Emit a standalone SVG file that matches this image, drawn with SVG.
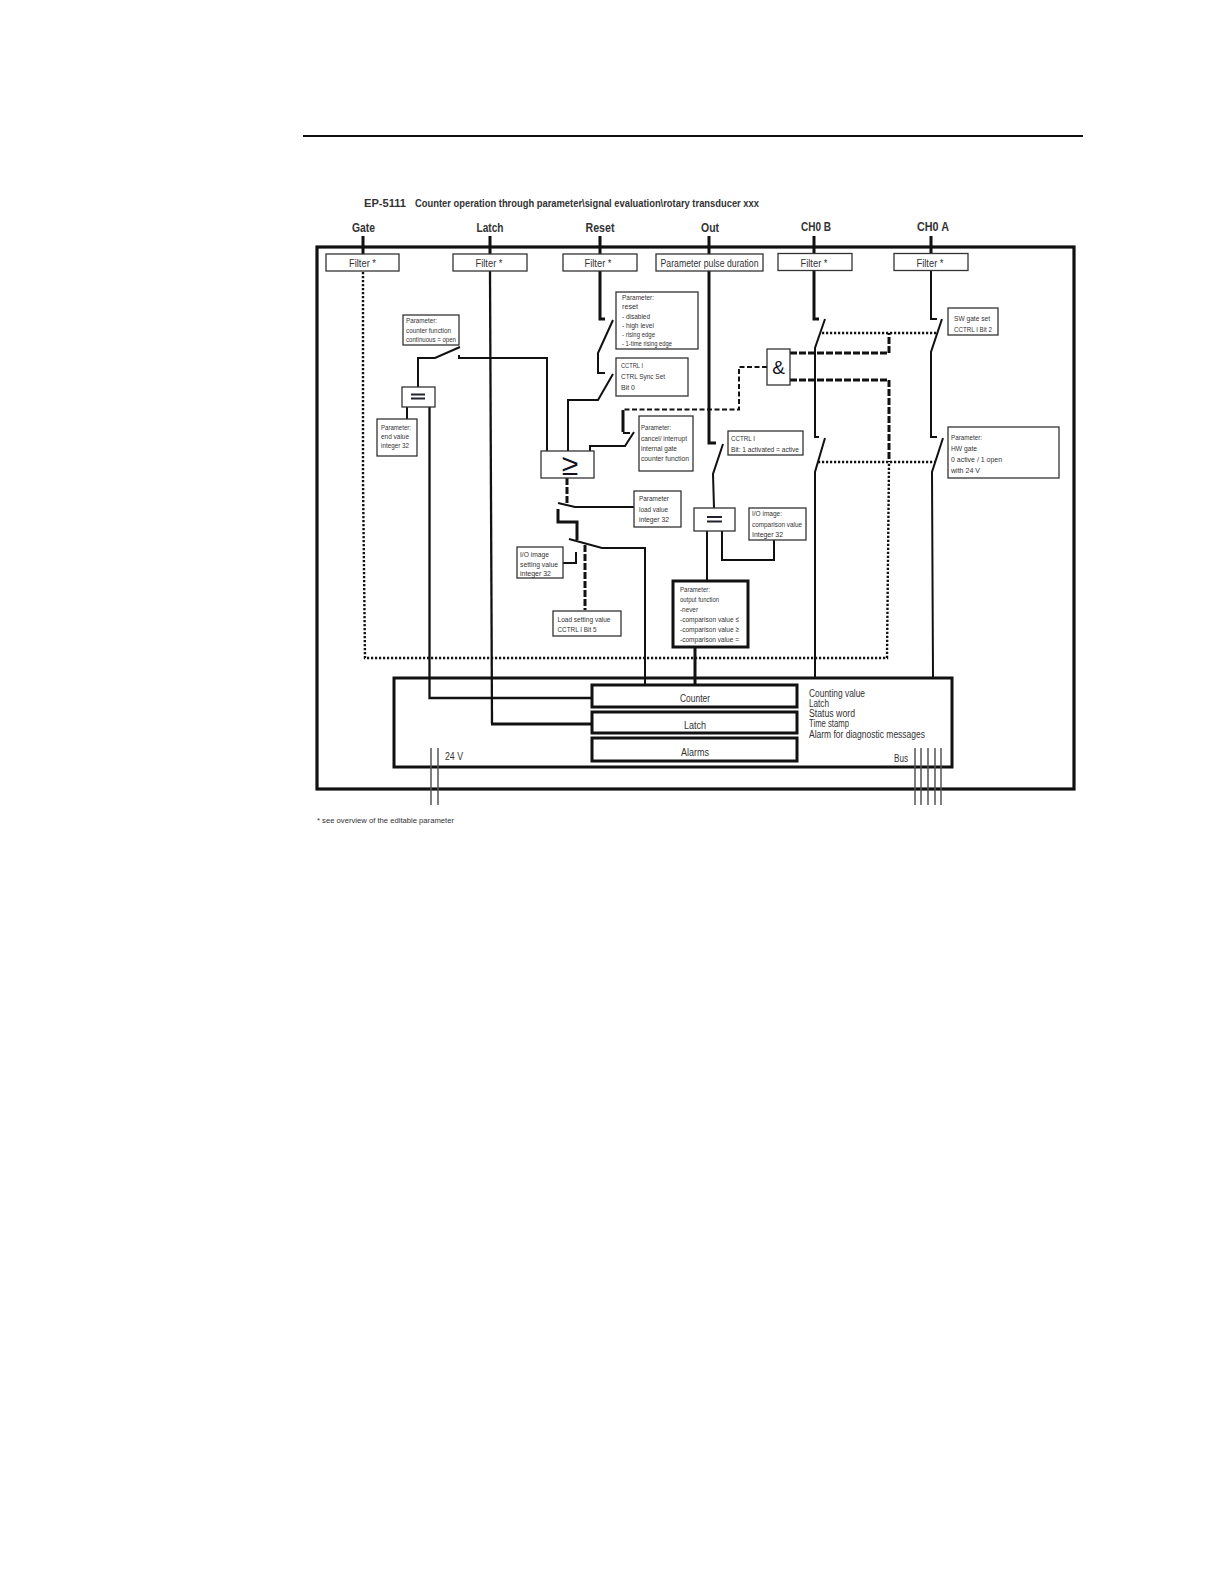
<svg xmlns="http://www.w3.org/2000/svg" width="1224" height="1584" viewBox="0 0 1224 1584">
<style>
text{font-family:"Liberation Sans",Arial,sans-serif;fill:#333}
.b{fill:#fff;stroke:#333;stroke-width:1.3}
.f{font-size:11px;text-anchor:middle}
.s{font-size:7.800px}
.h{font-size:13.500px;font-weight:bold;text-anchor:middle}
.q{font-size:10px}
.c{font-size:11.500px;text-anchor:middle}
.l{fill:none;stroke:#111;stroke-width:2}
.t{fill:none;stroke:#111;stroke-width:3}
.d{fill:none;stroke:#111;stroke-width:2.400;stroke-dasharray:2.200 1.800}
.m{fill:none;stroke:#111;stroke-width:3;stroke-dasharray:7 2}
.n{fill:none;stroke:#111;stroke-width:2;stroke-dasharray:5 2.500}
.g{stroke:#555;stroke-width:1.500}
.x{fill:#fff;stroke:#111;stroke-width:3}
</style>
<path d="M303 136H1083" stroke="#111" stroke-width="2"/>
<text x="364" y="207" font-size="11.500" font-weight="bold" textLength="42" lengthAdjust="spacingAndGlyphs">EP-5111</text>
<text x="415" y="207" font-size="11.500" font-weight="bold" textLength="344" lengthAdjust="spacingAndGlyphs">Counter operation through parameter\signal evaluation\rotary transducer xxx</text>
<text class="h" x="363.500" y="232" textLength="23" lengthAdjust="spacingAndGlyphs">Gate</text>
<text class="h" x="490" y="232" textLength="27" lengthAdjust="spacingAndGlyphs">Latch</text>
<text class="h" x="600" y="232" textLength="29" lengthAdjust="spacingAndGlyphs">Reset</text>
<text class="h" x="710" y="232" textLength="18" lengthAdjust="spacingAndGlyphs">Out</text>
<text class="h" x="816" y="231" textLength="30" lengthAdjust="spacingAndGlyphs">CH0 B</text>
<text class="h" x="933" y="231" textLength="32" lengthAdjust="spacingAndGlyphs">CH0 A</text>
<rect x="317" y="247" width="757" height="542" fill="none" stroke="#111" stroke-width="3.200"/>
<g id="connectors">
<path class="t" d="M363 236V254M490 236V254M600 236V254M709 236V254M814 236V254M931 236V254"/>
<path class="d" d="M363 272V480L365 658H887L889 462"/>
<path class="d" d="M818 462H935M822 333H938"/>
<path class="m" d="M790 353H889V333M790 380H889V462"/>
<path class="n" d="M767 367H739V409.500H623"/>
<path class="t" d="M623 410V432"/>
<path class="l" d="M623 433H630M634 432L625 446H590V451"/>
<path class="l" d="M418 387V358H435L460 347M459 355V358H547V451"/>
<path class="l" d="M407 407V419"/>
<path class="l" d="M429.500 407V698H592" style="stroke-width:2.300"/>
<path class="l" d="M490 271L492 724" style="stroke-width:2.300"/>
<path class="t" d="M491 724H592"/>
<path class="t" d="M600 271V319H605"/>
<path class="l" d="M613 320L598 353V373H605M613 374L598 400H568V451"/>
<path class="m" d="M567 478V503"/>
<path class="l" d="M558 503L575 507H634"/>
<path class="t" d="M558 509V522H577V540"/>
<path class="l" d="M569 539L602 548H645V684M563 563H576V552"/>
<path class="m" d="M585 545V610"/>
<path class="t" d="M709 271V443H716"/>
<path class="l" d="M723 444L713 474L714 508"/>
<path class="l" d="M707 531V582"/>
<path class="l" d="M722 531V560H774V540"/>
<path class="t" d="M695 647V684"/>
<path class="t" d="M814 271V319H819"/>
<path class="l" d="M825 319L815 348V437H819M825 438L815 472V678"/>
<path class="l" d="M931 271V319H937M942 319L931 352V437H937M943 438L932 472L933 678"/>
</g>
<g id="filter-gate"><rect class="b" x="326" y="254" width="73" height="17"/><text class="f" x="362.500" y="267" textLength="27" lengthAdjust="spacingAndGlyphs">Filter *</text></g>
<g id="filter-latch"><rect class="b" x="453" y="254" width="74" height="17"/><text class="f" x="489" y="267" textLength="27" lengthAdjust="spacingAndGlyphs">Filter *</text></g>
<g id="filter-reset"><rect class="b" x="563" y="254" width="74" height="17"/><text class="f" x="598" y="267" textLength="27" lengthAdjust="spacingAndGlyphs">Filter *</text></g>
<g id="pulse"><rect class="b" x="656" y="254" width="107" height="17"/><text class="f" x="709.500" y="267" textLength="98" lengthAdjust="spacingAndGlyphs">Parameter pulse duration</text></g>
<g id="filter-chb"><rect class="b" x="778" y="253.500" width="74" height="17"/><text class="f" x="814" y="266.500" textLength="27" lengthAdjust="spacingAndGlyphs">Filter *</text></g>
<g id="filter-cha"><rect class="b" x="894" y="253.500" width="74" height="17"/><text class="f" x="930" y="266.500" textLength="27" lengthAdjust="spacingAndGlyphs">Filter *</text></g>
<g id="counter-fn"><rect class="b" x="403" y="315" width="56" height="30"/><text class="s" x="406" y="323" textLength="31" lengthAdjust="spacingAndGlyphs">Parameter:</text><text class="s" x="406" y="333" textLength="45" lengthAdjust="spacingAndGlyphs">counter function</text><text class="s" x="406" y="342" textLength="50" lengthAdjust="spacingAndGlyphs">continuous = open</text></g>
<g id="eq1"><rect class="b" x="402" y="387" width="33" height="20"/><path d="M411 394.500H425M411 398.500H425" stroke="#223" stroke-width="1.800"/></g>
<g id="end-value"><rect class="b" x="377" y="419" width="40" height="37"/><text class="s" x="381" y="430" textLength="30" lengthAdjust="spacingAndGlyphs">Parameter:</text><text class="s" x="381" y="439" textLength="28" lengthAdjust="spacingAndGlyphs">end value</text><text class="s" x="381" y="448" textLength="28" lengthAdjust="spacingAndGlyphs">integer 32</text></g>
<g id="reset-param"><rect class="b" x="616" y="292" width="82" height="57"/><text class="s" x="622" y="300" textLength="32" lengthAdjust="spacingAndGlyphs">Parameter:</text><text class="s" x="622" y="309" textLength="16" lengthAdjust="spacingAndGlyphs">reset</text><text class="s" x="622" y="319" textLength="28" lengthAdjust="spacingAndGlyphs">- disabled</text><text class="s" x="622" y="328" textLength="32" lengthAdjust="spacingAndGlyphs">- high level</text><text class="s" x="622" y="337" textLength="33" lengthAdjust="spacingAndGlyphs">- rising edge</text><text class="s" x="622" y="346" textLength="50" lengthAdjust="spacingAndGlyphs">- 1-time rising edge</text></g>
<g id="cctrl-sync"><rect class="b" x="616" y="358" width="72" height="38"/><text class="s" x="621" y="368" textLength="22" lengthAdjust="spacingAndGlyphs">CCTRL I</text><text class="s" x="621" y="379" textLength="44" lengthAdjust="spacingAndGlyphs">CTRL Sync Set</text><text class="s" x="621" y="390" textLength="14" lengthAdjust="spacingAndGlyphs">Bit 0</text></g>
<g id="cancel"><rect class="b" x="639" y="416" width="54" height="55"/><text class="s" x="641" y="430" textLength="30" lengthAdjust="spacingAndGlyphs">Parameter:</text><text class="s" x="641" y="441" textLength="46" lengthAdjust="spacingAndGlyphs">cancel/ interrupt</text><text class="s" x="641" y="451" textLength="36" lengthAdjust="spacingAndGlyphs">internal gate</text><text class="s" x="641" y="461" textLength="48" lengthAdjust="spacingAndGlyphs">counter function</text></g>
<g id="ge"><rect class="b" x="541" y="451" width="53" height="27"/><text x="570" y="475" font-size="30" text-anchor="middle" style="fill:#112">≥</text></g>
<g id="and"><rect class="b" x="767" y="349" width="23" height="36"/><text x="778.500" y="373.500" font-size="19" text-anchor="middle" style="fill:#112">&amp;</text></g>
<g id="load-value"><rect class="b" x="634" y="491" width="47" height="36"/><text class="s" x="639" y="501" textLength="30" lengthAdjust="spacingAndGlyphs">Parameter</text><text class="s" x="639" y="512" textLength="29" lengthAdjust="spacingAndGlyphs">load value</text><text class="s" x="639" y="522" textLength="30" lengthAdjust="spacingAndGlyphs">integer 32</text></g>
<g id="io-setting"><rect class="b" x="517" y="547" width="46" height="31"/><text class="s" x="520" y="557" textLength="29" lengthAdjust="spacingAndGlyphs">I/O image</text><text class="s" x="520" y="567" textLength="38" lengthAdjust="spacingAndGlyphs">setting value</text><text class="s" x="520" y="576" textLength="31" lengthAdjust="spacingAndGlyphs">integer 32</text></g>
<g id="load-setting"><rect class="b" x="553" y="611" width="68" height="25"/><text class="s" x="557.500" y="622" textLength="53" lengthAdjust="spacingAndGlyphs">Load setting value</text><text class="s" x="557.500" y="632" textLength="39" lengthAdjust="spacingAndGlyphs">CCTRL I Bit 5</text></g>
<g id="cctrl-out"><rect class="b" x="728" y="431" width="75" height="24"/><text class="s" x="731" y="441" textLength="24" lengthAdjust="spacingAndGlyphs">CCTRL I</text><text class="s" x="731" y="452" textLength="68" lengthAdjust="spacingAndGlyphs">Bit: 1 activated = active</text></g>
<g id="eq2"><rect class="b" x="694" y="508" width="41" height="23"/><path d="M707 517H722M707 521.500H722" stroke="#223" stroke-width="1.800"/></g>
<g id="io-comp"><rect class="b" x="749" y="508" width="57" height="32"/><text class="s" x="752" y="516" textLength="30" lengthAdjust="spacingAndGlyphs">I/O image:</text><text class="s" x="752" y="527" textLength="50" lengthAdjust="spacingAndGlyphs">comparison value</text><text class="s" x="752" y="537" textLength="31" lengthAdjust="spacingAndGlyphs">Integer 32</text></g>
<g id="output-fn"><rect class="x" x="673" y="581" width="75" height="66"/><text class="s" x="680" y="592" textLength="30" lengthAdjust="spacingAndGlyphs">Parameter:</text><text class="s" x="680" y="602" textLength="39" lengthAdjust="spacingAndGlyphs">output function</text><text class="s" x="680" y="612" textLength="18" lengthAdjust="spacingAndGlyphs">-never</text><text class="s" x="680" y="622" textLength="59" lengthAdjust="spacingAndGlyphs">-comparison value ≤</text><text class="s" x="680" y="632" textLength="59" lengthAdjust="spacingAndGlyphs">-comparison value ≥</text><text class="s" x="680" y="642" textLength="59" lengthAdjust="spacingAndGlyphs">-comparison value =</text></g>
<g id="sw-gate"><rect class="b" x="948" y="308" width="50" height="27"/><text class="s" x="954" y="321" textLength="36" lengthAdjust="spacingAndGlyphs">SW gate set</text><text class="s" x="954" y="332" textLength="38" lengthAdjust="spacingAndGlyphs">CCTRL I Bit 2</text></g>
<g id="hw-gate"><rect class="b" x="948" y="427" width="111" height="51"/><text class="s" x="951" y="440" textLength="31" lengthAdjust="spacingAndGlyphs">Parameter:</text><text class="s" x="951" y="451" textLength="26" lengthAdjust="spacingAndGlyphs">HW gate</text><text class="s" x="951" y="462" textLength="51" lengthAdjust="spacingAndGlyphs">0 active / 1 open</text><text class="s" x="951" y="473" textLength="29" lengthAdjust="spacingAndGlyphs">with 24 V</text></g>
<g id="module"><rect x="394" y="678" width="558" height="89" fill="none" stroke="#111" stroke-width="3"/>
<text class="q" x="809" y="696.500" textLength="56" lengthAdjust="spacingAndGlyphs">Counting value</text><text class="q" x="809" y="706.500" textLength="20" lengthAdjust="spacingAndGlyphs">Latch</text><text class="q" x="809" y="717" textLength="46" lengthAdjust="spacingAndGlyphs">Status word</text><text class="q" x="809" y="727" textLength="40" lengthAdjust="spacingAndGlyphs">Time stamp</text><text class="q" x="809" y="737.500" textLength="116" lengthAdjust="spacingAndGlyphs">Alarm for diagnostic messages</text>
<text class="q" x="445" y="760" textLength="18" lengthAdjust="spacingAndGlyphs">24 V</text><text class="q" x="894" y="762" textLength="14" lengthAdjust="spacingAndGlyphs">Bus</text></g>
<g id="counter"><rect class="x" x="592" y="685" width="205" height="22"/><text class="c" x="695" y="702" textLength="30" lengthAdjust="spacingAndGlyphs">Counter</text></g>
<g id="latch"><rect class="x" x="592" y="712" width="205" height="21"/><text class="c" x="695" y="729" textLength="22" lengthAdjust="spacingAndGlyphs">Latch</text></g>
<g id="alarms"><rect class="x" x="592" y="738" width="205" height="23"/><text class="c" x="695" y="756" textLength="28" lengthAdjust="spacingAndGlyphs">Alarms</text></g>
<path class="g" d="M431 748V805M438 748V805M915 748V805M921 748V805M928 748V805M935 748V805M941 748V805"/>
<text x="317" y="823" font-size="8" textLength="137" lengthAdjust="spacingAndGlyphs">* see overview of the editable parameter</text>
</svg>
